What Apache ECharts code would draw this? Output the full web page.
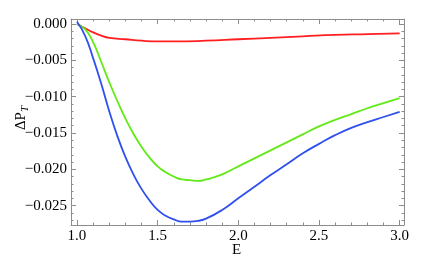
<!DOCTYPE html>
<html><head><meta charset="utf-8">
<script src="https://cdn.jsdelivr.net/npm/echarts@6/dist/echarts.min.js"></script>
<style>html,body{margin:0;padding:0;background:#fff}#c{width:429px;height:271px}</style>
</head><body><div id="c"></div>
<script>
// Data
const blueE = [1.0,1.05,1.1,1.15,1.2,1.25,1.3,1.35,1.4,1.45,1.5,1.55,1.6,1.65,1.7,1.75,1.8,1.9,2.0,2.1,2.2,2.3,2.4,2.5,2.6,2.7,2.8,2.9,3.0];
const blueV = [0.0003,-0.0016,-0.0047,-0.0082,-0.0120,-0.0154,-0.0183,-0.0207,-0.0227,-0.0243,-0.0256,-0.0264,-0.0269,-0.0272,-0.0272,-0.0271,-0.0268,-0.0256,-0.0240,-0.0224,-0.0208,-0.0193,-0.0178,-0.0165,-0.0153,-0.0143,-0.0135,-0.0128,-0.0121];
const greenE = [1.0,1.05,1.1,1.15,1.2,1.25,1.3,1.35,1.4,1.45,1.5,1.55,1.6,1.65,1.7,1.75,1.8,1.9,2.0,2.1,2.2,2.3,2.4,2.5,2.6,2.7,2.8,2.9,3.0];
const greenV = [0,-0.0007,-0.0025,-0.0052,-0.0080,-0.0106,-0.0130,-0.0151,-0.0169,-0.0184,-0.0196,-0.0204,-0.0210,-0.0214,-0.0215,-0.0216,-0.0214,-0.0207,-0.0196,-0.0185,-0.0174,-0.0163,-0.0152,-0.0141,-0.0132,-0.0124,-0.0116,-0.0109,-0.0102];
const redE = [1.0,1.05,1.1,1.15,1.2,1.3,1.4,1.5,1.6,1.8,2.0,2.2,2.4,2.6,2.8,3.0];
const redV = [0,-0.0006,-0.00115,-0.0016,-0.0019,-0.0021,-0.0023,-0.0024,-0.0024,-0.0023,-0.0021,-0.0019,-0.0017,-0.0015,-0.0014,-0.0013];
const xTicks = [1.0,1.5,2.0,2.5,3.0];
const yTicks = [0,-0.005,-0.010,-0.015,-0.020,-0.025];

const xMin = 0.963, xMax = 3.027, yMin = -0.02767, yMax = 0.00069;
const xMinor = []; for (let i = 10; i <= 30; i++) { if (i % 5) xMinor.push(i / 10); }
const yMinor = []; for (let i = 0; i >= -27; i--) { if (i % 5) yMinor.push(i / 1000); }

const frame = '#8c8c8c';
const font = 'Liberation Serif';
function mkX(pos, ticks, len, showLine, showLabel) {
  return {type:'value', position:pos, min:xMin, max:xMax,
    axisLine:{show:showLine, onZero:false, lineStyle:{color:frame, width:1}},
    axisTick:{show:true, inside:true, length:len, customValues:ticks, lineStyle:{color:frame}},
    axisLabel:{show:showLabel, customValues:ticks, margin:4, color:'#000', fontFamily:font, fontSize:15,
      formatter:v=>v.toFixed(1)},
    splitLine:{show:false}};
}
function mkY(pos, ticks, len, showLine, showLabel, name) {
  const o = {type:'value', position:pos, min:yMin, max:yMax,
    axisLine:{show:showLine, onZero:false, lineStyle:{color:frame, width:1}},
    axisTick:{show:true, inside:true, length:len, customValues:ticks, lineStyle:{color:frame}},
    axisLabel:{show:showLabel, customValues:ticks, margin:4, color:'#000', fontFamily:font, fontSize:15,
      formatter:v=>v.toFixed(3).replace('-', '\u2212')},
    splitLine:{show:false}};
  if (name) {
    o.name = '{a|\u0394P}{b|T}';
    o.nameLocation = 'middle';
    o.nameRotate = 90;
    o.nameGap = 40;
    o.nameMoveOverlap = false;
    o.nameTextStyle = {padding:[0,0,0,8], rich:{
      a:{fontFamily:font, fontSize:15, color:'#000', lineHeight:20, verticalAlign:'middle'},
      b:{fontFamily:font, fontSize:11, fontStyle:'italic', color:'#000', lineHeight:12, verticalAlign:'bottom'}
    }};
  }
  return o;
}
const pairs = (xs, ys) => xs.map((x, i) => [x, ys[i]]);
const chart = echarts.init(document.getElementById('c'), null, {renderer:'canvas'});
chart.setOption({
  animation:false,
  grid:{left:71, top:19, right:25, bottom:46, outerBoundsMode:'none', containLabel:false},
  xAxis:[mkX('bottom', xTicks, 5, true, true), mkX('bottom', xMinor, 2.5, false, false),
         mkX('top', xTicks, 5, true, false), mkX('top', xMinor, 2.5, false, false)],
  yAxis:[mkY('left', yTicks, 5, true, true, true), mkY('left', yMinor, 2.5, false, false),
         mkY('right', yTicks, 5, true, false), mkY('right', yMinor, 2.5, false, false)],
  series:[
    {type:'line', data:pairs(redE, redV), smooth:0.5, showSymbol:false, lineStyle:{color:'#ff1f1f', width:1.8}},
    {type:'line', data:pairs(greenE, greenV), smooth:0.5, showSymbol:false, lineStyle:{color:'#62ea16', width:1.8}},
    {type:'line', data:pairs(blueE, blueV), smooth:0.5, showSymbol:false, lineStyle:{color:'#3050ee', width:1.8}}
  ],
  graphic:[
    {type:'text', left:232, top:243, style:{text:'E', font:'15px "Liberation Serif"', fill:'#000'}}
  ]
});
</script></body></html>
